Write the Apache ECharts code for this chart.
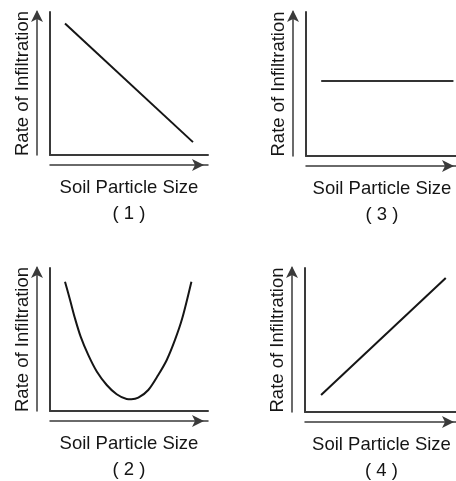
<!DOCTYPE html>
<html>
<head>
<meta charset="utf-8">
<script src="https://cdn.jsdelivr.net/npm/echarts@6/dist/echarts.min.js"></script>
<style>html,body{margin:0;padding:0;background:#fff}#c{width:456px;height:481px}</style>
</head>
<body>
<div id="c"></div>
<script>
const xLabel = 'Soil Particle Size';
const yLabel = 'Rate of Infiltration';
const panelLabels = ['( 1 )', '( 3 )', '( 2 )', '( 4 )'];
// panel (1): decreasing straight line
const graph1 = [[0.95, 9.2], [9.05, 0.9]];
// panel (3): constant
const graph3 = [[1.0, 5.2], [9.7, 5.2]];
// panel (2): U-shaped curve
const graph2 = [[0.95, 9.04], [1.27, 7.76], [1.58, 6.48], [1.94, 5.20], [2.42, 3.92], [2.96, 2.76], [3.59, 1.82], [4.22, 1.17], [4.85, 0.84], [5.15, 0.82], [5.59, 0.93], [6.22, 1.47], [6.85, 2.52], [7.39, 3.57], [7.91, 4.97], [8.37, 6.48], [8.95, 9.04]];
// panel (4): increasing straight line
const graph4 = [[1.05, 1.18], [9.2, 9.3]];

const panelData = [graph1, graph3, graph2, graph4];
const grids = [
  {left: 50, top: 12, width: 158, height: 143, outerBoundsMode: 'none'},
  {left: 306, top: 12, width: 152, height: 144, outerBoundsMode: 'none'},
  {left: 50, top: 268, width: 158, height: 143, outerBoundsMode: 'none'},
  {left: 305, top: 268, width: 153, height: 144, outerBoundsMode: 'none'}
];
const ink = '#151515';
const axisInk = '#3a3a3a';
const font = 'Liberation Sans, Arial, sans-serif';

const xAxes = [], yAxes = [], series = [];
grids.forEach((g, i) => {
  xAxes.push({
    type: 'value', gridIndex: i, min: 0, max: 10, position: 'bottom',
    axisLine: {show: true, onZero: false, lineStyle: {color: axisInk, width: 2}},
    axisTick: {show: false}, axisLabel: {show: false}, splitLine: {show: false},
    name: xLabel + '\n' + panelLabels[i], nameLocation: 'middle', nameGap: 20,
    nameTextStyle: {fontFamily: font, fontSize: 18.5, color: ink, lineHeight: 26, verticalAlign: 'top'}
  });
  xAxes.push({
    type: 'value', gridIndex: i, min: 0, max: 10, position: 'bottom', offset: 10,
    axisLine: {show: true, onZero: false, symbol: ['none', 'arrow'], symbolSize: [9, 12], symbolOffset: [0, -4], lineStyle: {color: axisInk, width: 1.5}},
    axisTick: {show: false}, axisLabel: {show: false}, splitLine: {show: false}
  });
  yAxes.push({
    type: 'value', gridIndex: i, min: 0, max: 10, position: 'left',
    axisLine: {show: true, onZero: false, lineStyle: {color: axisInk, width: 2}},
    axisTick: {show: false}, axisLabel: {show: false}, splitLine: {show: false},
    name: yLabel, nameLocation: 'middle', nameGap: 18, nameRotate: 90,
    nameTextStyle: {fontFamily: font, fontSize: 18.5, color: ink}
  });
  yAxes.push({
    type: 'value', gridIndex: i, min: 0, max: 10, position: 'left', offset: 13,
    axisLine: {show: true, onZero: false, symbol: ['none', 'arrow'], symbolSize: [9, 12], symbolOffset: [0, 2], lineStyle: {color: axisInk, width: 1.5}},
    axisTick: {show: false}, axisLabel: {show: false}, splitLine: {show: false}
  });
  series.push({
    type: 'line', xAxisIndex: 2 * i, yAxisIndex: 2 * i, data: panelData[i],
    smooth: i === 2 ? 0.3 : false, showSymbol: false, symbol: 'none', silent: true,
    lineStyle: {color: i === 1 ? '#333' : ink, width: 2}
  });
});

const chart = echarts.init(document.getElementById('c'));
chart.setOption({
  animation: false,
  backgroundColor: '#fff',
  grid: grids,
  xAxis: xAxes,
  yAxis: yAxes,
  series: series
});
</script>
</body>
</html>
